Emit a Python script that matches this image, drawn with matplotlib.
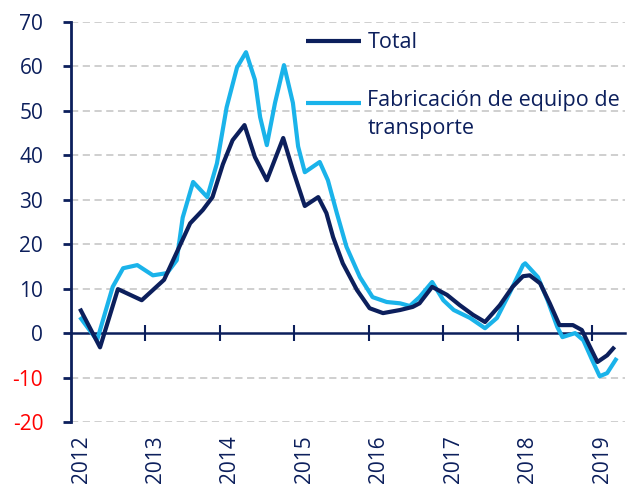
import numpy as np
import matplotlib.pyplot as plt
import matplotlib.transforms as mtransforms

plt.rcParams['font.family'] = ['Open Sans', 'DejaVu Sans']
plt.rcParams['axes.unicode_minus'] = False

# values (year, % change)
total_x = [2012.12, 2012.39, 2012.63, 2012.95, 2013.25, 2013.6, 2013.77, 2013.9,
           2014.04, 2014.17, 2014.33, 2014.47, 2014.63, 2014.85, 2014.98, 2015.14,
           2015.32, 2015.43, 2015.52, 2015.65, 2015.84, 2016.01, 2016.19, 2016.42,
           2016.59, 2016.68, 2016.85, 2017.05, 2017.22, 2017.4, 2017.56, 2017.76,
           2017.93, 2018.07, 2018.16, 2018.3, 2018.43, 2018.56, 2018.74, 2018.86,
           2018.97, 2019.07, 2019.2, 2019.3]
total_y = [5.5, -3.2, 9.9, 7.4, 12.0, 24.7, 27.7, 30.6,
           38.0, 43.4, 46.8, 39.6, 34.4, 43.9, 36.7, 28.6,
           30.6, 27.0, 21.6, 15.7, 9.7, 5.6, 4.5, 5.2,
           5.9, 6.7, 10.4, 8.6, 6.3, 4.1, 2.5, 6.3,
           10.4, 12.8, 13.0, 11.2, 6.7, 1.8, 1.8, 0.7,
           -3.1, -6.5, -5.0, -3.1]

transp_x = [2012.12, 2012.35, 2012.56, 2012.7, 2012.89, 2013.1, 2013.29, 2013.42,
            2013.5, 2013.64, 2013.83, 2013.96, 2014.09, 2014.23, 2014.35, 2014.47,
            2014.54, 2014.63, 2014.74, 2014.86, 2014.98, 2015.05, 2015.14, 2015.34,
            2015.45, 2015.57, 2015.7, 2015.88, 2016.05, 2016.24, 2016.42, 2016.55,
            2016.68, 2016.85, 2017.0, 2017.14, 2017.36, 2017.56, 2017.72, 2017.89,
            2018.07, 2018.1, 2018.27, 2018.4, 2018.53, 2018.6, 2018.77, 2018.88,
            2019.0, 2019.1, 2019.2, 2019.33]
transp_y = [3.6, -1.6, 10.4, 14.6, 15.3, 13.0, 13.5, 16.4,
            26.0, 34.0, 30.6, 38.2, 50.8, 59.8, 63.2, 57.0,
            48.6, 42.3, 51.8, 60.3, 51.8, 42.0, 36.2, 38.5,
            34.4, 27.0, 19.4, 12.6, 8.1, 7.0, 6.7, 6.1,
            8.1, 11.5, 7.4, 5.2, 3.4, 1.1, 3.4, 9.0,
            15.3, 15.7, 12.6, 7.4, 1.4, -0.9, 0.0, -1.6,
            -6.1, -9.7, -9.0, -5.6]

years = list(range(2012, 2020))
yticks = list(range(-20, 80, 10))

navy = '#0c1f5c'
light = '#1ab3ea'

fig = plt.figure(figsize=(6.39, 4.86), dpi=100)
ax = fig.add_axes([71 / 639, 1 - 422 / 486, (625 - 71) / 639, 400 / 486])

ax.plot(total_x, total_y, color=navy, lw=3.0, label='Total', zorder=3,
        solid_joinstyle='round', solid_capstyle='butt')
ax.plot(transp_x, transp_y, color=light, lw=3.0,
        label='Fabricación de equipo de\ntransporte', zorder=2,
        solid_joinstyle='round', solid_capstyle='butt')

ax.set_ylim(-20, 70)
ax.set_xlim(2012, 2019.44)
ax.set_yticks(yticks)
ax.yaxis.grid(True, color='#cccccc', ls=(0, (4, 2.5)), lw=1.3)
ax.set_axisbelow(True)
ax.yaxis.get_gridlines()[yticks.index(0)].set_visible(False)

for s in ['top', 'right', 'bottom']:
    ax.spines[s].set_visible(False)
ax.spines['left'].set_color(navy)
ax.spines['left'].set_linewidth(2)
ax.tick_params(axis='y', direction='out', length=6, width=2, color=navy,
               labelsize=15, labelcolor=navy, pad=14)
for lab, v in zip(ax.get_yticklabels(), yticks):
    if v < 0:
        lab.set_color('#ff0000')

# year labels along the bottom
ax.set_xticks(years)
ax.set_xticklabels([str(y) for y in years], rotation=90, fontsize=15, color=navy)
ax.tick_params(axis='x', length=0, pad=9.5)
offset = mtransforms.ScaledTranslation(10 / 100, 0, fig.dpi_scale_trans)
for lab in ax.get_xticklabels():
    lab.set_transform(lab.get_transform() + offset)

# x axis line crossing at zero
zero_frac = (0 - ax.get_ylim()[0]) / (ax.get_ylim()[1] - ax.get_ylim()[0])
sec = ax.secondary_xaxis(zero_frac)
sec.set_xticks(years[1:])
sec.tick_params(direction='inout', length=12, width=1.5, color=navy, labelbottom=False,
                labeltop=False)
sec.spines['bottom'].set_color(navy)
sec.spines['bottom'].set_linewidth(1.8)
sec.spines['top'].set_visible(False)

leg = ax.legend(loc='upper left', bbox_to_anchor=(287 / 639, 1 - 13 / 486),
                bbox_transform=fig.transFigure, frameon=False, fontsize=15.5,
                handlelength=2.55, handletextpad=0.28, labelspacing=1.7,
                labelcolor=navy)
leg.get_texts()[1].set_linespacing(1.45)
h = leg.legend_handles[1]
h.set_ydata(np.asarray(h.get_ydata()) + 9)

fig.savefig('out.png', dpi=100)
